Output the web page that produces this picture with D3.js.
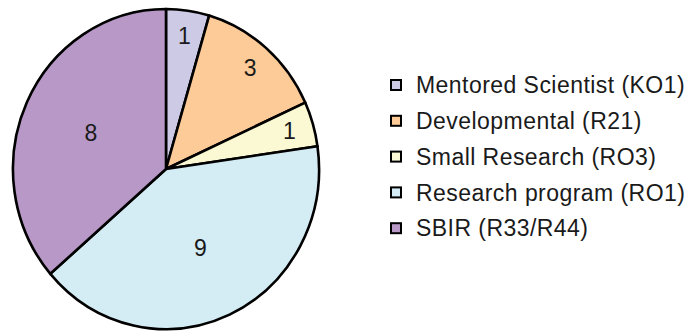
<!DOCTYPE html>
<html>
<head>
<meta charset="utf-8">
<script src="https://cdn.jsdelivr.net/npm/d3@7/dist/d3.min.js"></script>
<style>
  html, body { margin: 0; padding: 0; background: #fff; }
  svg { display: block; }
  text { font-family: "Liberation Sans", Arial, sans-serif; fill: #1a1a1a; }
</style>
</head>
<body>
<svg id="chart" width="688" height="334"></svg>
<script>
// Grant counts by funding mechanism
const categories = [
  "Mentored Scientist (KO1)",
  "Developmental (R21)",
  "Small Research (RO3)",
  "Research program (RO1)",
  "SBIR (R33/R44)"
];
const counts = [1, 3, 1, 9, 8];
const colors = ["#cdcae6", "#fdcb98", "#fbf9d4", "#d4ecf3", "#b798c7"];

const data = categories.map((c, i) => ({ name: c, value: counts[i], color: colors[i] }));

const svg = d3.select("#chart");
const cx = 166, cy = 169, rx = 153, ry = 160;

const pie = d3.pie().value(d => d.value).sort(null);
const arcs = pie(data);

// unit arc, stretched to the ellipse by the group transform
const arc = d3.arc().innerRadius(0).outerRadius(1);

const g = svg.append("g").attr("transform", `translate(${cx},${cy})`);

g.append("g")
  .attr("transform", `scale(${rx},${ry})`)
  .selectAll("path")
  .data(arcs)
  .join("path")
  .attr("d", arc)
  .attr("fill", d => d.data.color)
  .attr("stroke", "#000")
  .attr("stroke-width", 2.6)
  .attr("stroke-linejoin", "round")
  .attr("vector-effect", "non-scaling-stroke");

// value labels: narrow slices near the rim, wide slices nearer the centre
g.selectAll("text.val")
  .data(arcs)
  .join("text")
  .attr("class", "val")
  .each(function(d) {
    const share = (d.endAngle - d.startAngle) / (2 * Math.PI);
    const r = share < 0.2 ? 0.84 : 0.54;
    const [ux, uy] = d3.arc().innerRadius(r).outerRadius(r).centroid(d);
    d3.select(this).attr("x", ux * rx).attr("y", uy * ry);
  })
  .attr("text-anchor", "middle")
  .attr("dy", "0.36em")
  .attr("font-size", 23)
  .text(d => d.data.value);

// legend
const legend = svg.append("g").attr("transform", "translate(391,85)");
const rowGap = 35.8;
const rows = legend.selectAll("g")
  .data(data)
  .join("g")
  .attr("transform", (d, i) => `translate(0,${i * rowGap})`);

rows.append("rect")
  .attr("x", 0).attr("y", -5)
  .attr("width", 10).attr("height", 10)
  .attr("fill", d => d.color)
  .attr("stroke", "#000")
  .attr("stroke-width", 2);

rows.append("text")
  .attr("x", 25)
  .attr("y", 0)
  .attr("dy", "0.36em")
  .attr("font-size", 23)
  .attr("letter-spacing", 0.45)
  .text(d => d.name);
</script>
</body>
</html>
